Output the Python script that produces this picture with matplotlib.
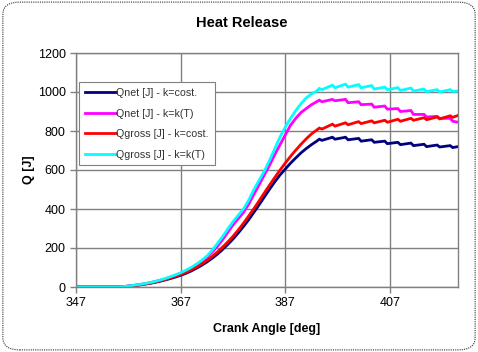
import matplotlib
matplotlib.use("Agg")
import matplotlib.pyplot as plt
from matplotlib.patches import FancyBboxPatch

plt.rcParams['font.family'] = ['Liberation Sans', 'DejaVu Sans']

# Crank angle grid [deg]
angle = [347, 348, 349, 350, 351, 352, 353, 354, 355, 356, 357, 358, 359, 360,
         361, 362, 363, 364, 365, 366, 367, 368, 369, 370, 371, 372, 373, 374,
         375, 376, 377, 378, 379, 380, 381, 382, 383, 384, 385, 386, 387, 388,
         389, 390, 391, 392, 393, 393.5, 394, 396, 396.5, 398.5, 399, 401, 401.5,
         403.5, 404, 406, 406.5, 408.5, 409, 411, 411.5, 413.5, 414, 416, 416.5,
         418.5, 419, 420]

qnet_const = [0, 0, 0, 0, 0, 0, 0, 0, 1, 2, 4, 7, 10, 14,
              18, 23, 29, 36, 43, 51, 60, 70, 82, 96, 111, 128, 147, 168,
              192, 218, 246, 277, 310, 345, 383, 422, 462, 502, 540, 575, 605, 635,
              662, 688, 710, 730, 748, 758, 752, 768, 758, 768, 755, 762, 748,
              755, 742, 748, 735, 742, 730, 738, 725, 732, 720, 728, 718,
              725, 715, 720]

qnet_kT = [0, 0, 0, 0, 0, 0, 0, 0, 1, 2, 5, 8, 12, 16,
           21, 27, 34, 41, 50, 60, 70, 82, 96, 112, 130, 150, 178, 208,
           242, 280, 318, 350, 382, 425, 475, 525, 575, 625, 680, 730, 780, 830,
           865, 895, 915, 935, 950, 958, 950, 962, 955, 962, 945, 950, 935,
           938, 922, 928, 912, 915, 900, 905, 885, 885, 872, 875, 865,
           865, 850, 845]

qgross_const = [0, 0, 0, 0, 0, 0, 0, 0, 1, 2, 4, 7, 11, 15,
                19, 25, 31, 38, 46, 55, 64, 75, 88, 102, 118, 136, 156, 179,
                204, 231, 260, 292, 327, 364, 402, 442, 483, 523, 562, 600, 636, 670,
                702, 732, 760, 785, 805, 815, 810, 835, 825, 842, 832, 848, 838,
                852, 842, 855, 845, 860, 850, 865, 855, 868, 858, 872, 862,
                878, 870, 880]

qgross_kT = [0, 0, 0, 0, 0, 0, 0, 0, 1, 2, 5, 9, 13, 17,
             22, 28, 35, 43, 52, 62, 73, 86, 100, 117, 136, 158, 188, 222,
             258, 297, 335, 368, 400, 445, 500, 548, 595, 650, 710, 770, 820, 865,
             905, 940, 970, 990, 1005, 1018, 1012, 1035, 1022, 1040, 1025, 1038, 1022,
             1033, 1015, 1025, 1012, 1022, 1008, 1020, 1005, 1015, 1002, 1012, 1000,
             1012, 1003, 1005]

labels = ["Qnet [J] - k=cost.", "Qnet [J] - k=k(T)",
          "Qgross [J] - k=cost.", "Qgross [J] - k=k(T)"]
colors = ["#000080", "#FF00FF", "#FF0000", "#00FFFF"]
xticks = [347, 367, 387, 407]
yticks = [0, 200, 400, 600, 800, 1000, 1200]

fig = plt.figure(figsize=(4.78, 3.52), dpi=100)
frame = FancyBboxPatch((0.006, 0.006), 0.988, 0.988,
                       boxstyle="round,pad=0,rounding_size=0.035",
                       transform=fig.transFigure, facecolor="white",
                       edgecolor="#303030", linewidth=0.8, linestyle=(0, (1, 1)),
                       zorder=-10)
fig.patches.append(frame)

ax = fig.add_axes([76/478, 1-287/352, (458-76)/478, (287-53)/352])
ax.set_facecolor("white")

series = [qnet_const, qnet_kT, qgross_const, qgross_kT]
for ys, c, lab in zip(series, colors, labels):
    ax.plot(angle, ys, color=c, lw=2.0, label=lab, solid_joinstyle='miter')

ax.set_xlim(347, 420)
ax.set_ylim(0, 1200)
ax.set_xticks(xticks)
ax.set_yticks(yticks)
ax.grid(True, color="#808080", lw=1.0)
ax.set_axisbelow(True)
for s in ax.spines.values():
    s.set_color("#808080")
    s.set_linewidth(1.0)
ax.tick_params(axis='both', colors="#808080", labelcolor="black", labelsize=9,
               length=4, width=1)
ax.tick_params(axis='x', pad=3)

ax.set_xlabel("Crank Angle [deg]", fontsize=9, fontweight='bold', labelpad=10)
ax.set_ylabel("Q [J]", fontsize=9, fontweight='bold', labelpad=2)
fig.text(0.505, 0.934, "Heat Release", ha='center', va='center',
         fontsize=10.5, fontweight='bold')

leg = ax.legend(loc='upper left', bbox_to_anchor=(0.008, 0.875), fontsize=7.7,
                frameon=True, fancybox=False, framealpha=1, edgecolor="#808080",
                handlelength=2.9, handletextpad=0.05, labelspacing=0.98,
                borderpad=0.55, borderaxespad=0)
leg.get_frame().set_linewidth(0.8)
for t in leg.get_texts():
    t.set_color("#333333")

fig.savefig("out.png", dpi=100)
